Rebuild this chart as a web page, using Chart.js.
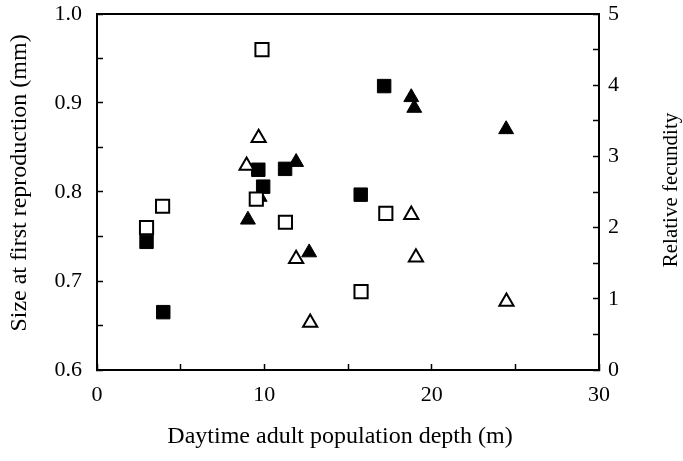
<!DOCTYPE html>
<html>
<head>
<meta charset="utf-8">
<script src="https://cdn.jsdelivr.net/npm/chart.js@4/dist/chart.umd.min.js"></script>
<style>
  html, body { margin: 0; padding: 0; background: #fff; }
  #wrap { width: 683px; height: 461px; }
</style>
</head>
<body>
<div id="wrap"><canvas id="c" width="683" height="461"></canvas></div>
<script>
// ---- data ----
const openSquareDepth   = [9.86, 3.92, 2.96, 9.52, 11.26, 17.26, 15.78];
const openSquareSize    = [0.960, 0.784, 0.760, 0.792, 0.766, 0.776, 0.688];
const filledSquareDepth = [2.96, 3.96, 9.64, 9.93, 11.24, 15.76, 17.16];
const filledSquareSize  = [0.744, 0.665, 0.825, 0.806, 0.826, 0.797, 0.919];
const openTriDepth      = [8.94, 9.66, 11.90, 12.74, 18.78, 19.06, 24.47];
const openTriFecundity  = [2.87, 3.26, 1.56, 0.665, 2.18, 1.58, 0.96];
const filledTriDepth    = [9.02, 9.72, 11.90, 12.68, 18.78, 18.96, 24.45];
const filledTriFecundity= [2.11, 2.43, 2.92, 1.65, 3.83, 3.68, 3.38];

const xTitle  = 'Daytime adult population depth (m)';
const yTitle  = 'Size at first reproduction (mm)';
const y2Title = 'Relative fecundity';

const pts = (xs, ys) => xs.map((x, i) => ({ x: x, y: ys[i] }));
const FONT = '"Liberation Serif", "DejaVu Serif", serif';

function drawText(ctx, text, x, y, size, rotate) {
  ctx.save();
  ctx.fillStyle = '#000';
  ctx.font = size + 'px ' + FONT;
  ctx.textAlign = 'center';
  ctx.textBaseline = 'middle';
  ctx.translate(x, y);
  if (rotate) ctx.rotate(-Math.PI / 2);
  ctx.fillText(text, 0, 0);
  ctx.restore();
}

const framePlugin = {
  id: 'frame',
  afterDraw(chart) {
    const { ctx, chartArea: a } = chart;
    ctx.save();
    ctx.strokeStyle = '#000';
    ctx.lineWidth = 2;
    ctx.beginPath();
    ctx.moveTo(a.left - 1, a.top);
    ctx.lineTo(a.right + 1, a.top);
    ctx.stroke();
    ctx.restore();
    // axis titles
    drawText(ctx, xTitle, 340, 437, 24, false);
    drawText(ctx, yTitle, 20, 183, 24, true);
    drawText(ctx, y2Title, 671, 190, 21, true);
  }
};

const tickGrid = {
  display: true, drawOnChartArea: false, drawTicks: true,
  tickLength: -6, tickWidth: 1.5, tickColor: '#000'
};
const border = { display: true, color: '#000', width: 2 };
const noPadV = s => { s.paddingTop = 0; s.paddingBottom = 0; };
const noPadH = s => { s.paddingLeft = 0; s.paddingRight = 0; };

new Chart(document.getElementById('c'), {
  type: 'scatter',
  data: {
    datasets: [
      { label: 'open squares', data: pts(openSquareDepth, openSquareSize), yAxisID: 'y',
        pointStyle: 'rect', pointRadius: 9.3, pointHoverRadius: 9.3,
        backgroundColor: '#fff', borderColor: '#000', borderWidth: 2, order: 0 },
      { label: 'filled triangles', data: pts(filledTriDepth, filledTriFecundity), yAxisID: 'y2',
        pointStyle: 'triangle', pointRadius: 8.6, pointHoverRadius: 8.6,
        backgroundColor: '#000', borderColor: '#000', borderWidth: 1, order: 1 },
      { label: 'open triangles', data: pts(openTriDepth, openTriFecundity), yAxisID: 'y2',
        pointStyle: 'triangle', pointRadius: 8.2, pointHoverRadius: 8.2,
        backgroundColor: '#fff', borderColor: '#000', borderWidth: 2, order: 2 },
      { label: 'filled squares', data: pts(filledSquareDepth, filledSquareSize), yAxisID: 'y',
        pointStyle: 'rect', pointRadius: 9.5, pointHoverRadius: 9.5,
        backgroundColor: '#000', borderColor: '#000', borderWidth: 1, order: 3 }
    ]
  },
  options: {
    responsive: false,
    animation: false,
    devicePixelRatio: 1,
    layout: { padding: { top: 14, left: 0, right: 0, bottom: 0 } },
    plugins: { legend: { display: false }, tooltip: { enabled: false } },
    scales: {
      x: {
        type: 'linear', position: 'bottom', min: 0, max: 30,
        grid: tickGrid, border: border,
        ticks: {
          stepSize: 5, color: '#000', padding: 18, maxRotation: 0, autoSkip: false,
          font: { family: FONT, size: 22 },
          callback: v => (Math.abs(v % 10) < 1e-6 ? String(v) : '')
        },
        title: { display: false, text: xTitle },
        afterFit: s => { s.height = 91; noPadH(s); }
      },
      y: {
        type: 'linear', position: 'left', min: 0.6, max: 1.0,
        grid: tickGrid, border: border,
        ticks: {
          stepSize: 0.05, color: '#000', padding: 21, autoSkip: false,
          font: { family: FONT, size: 22 },
          callback: v => {
            const t = Math.round(v * 100);
            return t % 10 === 0 ? (t / 100).toFixed(1) : '';
          }
        },
        title: { display: false, text: yTitle },
        afterFit: s => { s.width = 97; noPadV(s); }
      },
      y2: {
        type: 'linear', position: 'right', min: 0, max: 5,
        grid: tickGrid, border: border,
        ticks: {
          stepSize: 0.5, color: '#000', padding: 15, autoSkip: false,
          font: { family: FONT, size: 22 },
          callback: v => (Math.abs(v - Math.round(v)) < 1e-6 ? String(Math.round(v)) : '')
        },
        title: { display: false, text: y2Title },
        afterFit: s => { s.width = 84; noPadV(s); }
      }
    }
  },
  plugins: [framePlugin]
});
</script>
</body>
</html>
